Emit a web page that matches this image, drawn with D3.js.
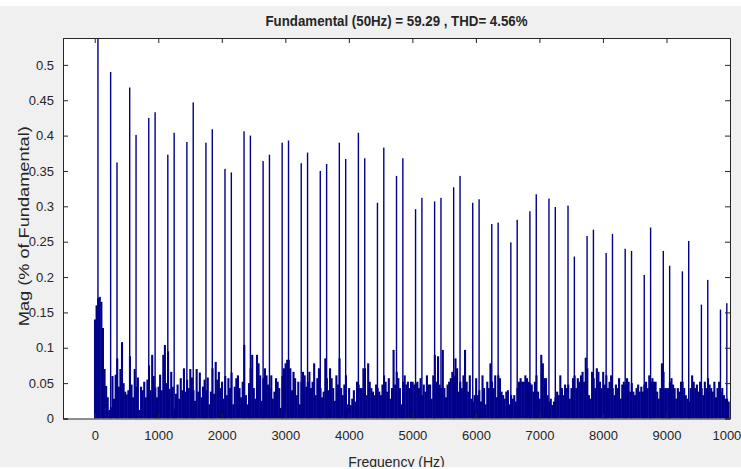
<!DOCTYPE html>
<html>
<head>
<meta charset="utf-8">
<script src="https://cdn.jsdelivr.net/npm/d3@7.9.0/dist/d3.min.js"></script>
<style>
  html, body { margin: 0; padding: 0; background: #fff; }
  svg { display: block; }
  text { font-family: "Liberation Sans Narrow", "Liberation Sans", Arial, sans-serif; fill: #262626; }
</style>
</head>
<body>
<div id="chart"></div>
<script>
const width = 741;
const height = 469;

const titleText = "Fundamental (50Hz) = 59.29 , THD= 4.56%";
const xLabel = "Frequency (Hz)";
const yLabel = "Mag (% of Fundamental)";

const xTicks = [0, 1000, 2000, 3000, 4000, 5000, 6000, 7000, 8000, 9000, 10000];
const yTicks = [0, 0.05, 0.1, 0.15, 0.2, 0.25, 0.3, 0.35, 0.4, 0.45, 0.5];

// fundamental + harmonics (6k +/- 1), frequency in Hz, magnitude in % of fundamental
const fundamental = { freq: 50, mag: 100 };
const harmonicFreqs = [
  250, 350, 550, 650, 850, 950, 1150, 1250, 1450, 1550,
  1750, 1850, 2050, 2150, 2350, 2450, 2650, 2750, 2950, 3050,
  3250, 3350, 3550, 3650, 3850, 3950, 4150, 4250, 4450, 4550,
  4750, 4850, 5050, 5150, 5350, 5450, 5650, 5750, 5950, 6050,
  6250, 6350, 6550, 6650, 6850, 6950, 7150, 7250, 7450, 7550,
  7750, 7850, 8050, 8150, 8350, 8450, 8650, 8750, 8950, 9050,
  9250, 9350, 9550, 9650, 9850, 9950
];
const harmonicMags = [
  0.490, 0.362, 0.468, 0.401, 0.425, 0.433, 0.373, 0.404, 0.391, 0.447,
  0.390, 0.409, 0.353, 0.348, 0.406, 0.400, 0.364, 0.373, 0.390, 0.393,
  0.361, 0.376, 0.350, 0.360, 0.390, 0.367, 0.404, 0.368, 0.305, 0.383,
  0.343, 0.368, 0.296, 0.312, 0.307, 0.312, 0.327, 0.343, 0.305, 0.310,
  0.275, 0.277, 0.249, 0.281, 0.293, 0.317, 0.311, 0.299, 0.301, 0.229,
  0.258, 0.267, 0.234, 0.261, 0.240, 0.237, 0.203, 0.270, 0.237, 0.216,
  0.208, 0.251, 0.161, 0.196, 0.154, 0.163
];

// noise floor, one value per 25 Hz bin starting at 0 Hz, in thousandths of a percent
const noiseStep = 25;
const noiseMilli = [
  140,160,170,172,165,128,70,46,30,12,16,60,28,62,85,45,70,108,50,38,34,40,88,48,30,70,45,58,12,45,40,52,30,55,75,40,90,60,44,30,
  45,62,40,90,104,50,95,42,66,45,14,35,48,28,57,40,71,38,55,43,70,58,40,25,70,38,65,30,45,55,40,58,20,38,71,35,80,55,66,43,
  52,28,60,33,57,43,65,20,45,57,61,43,30,52,104,33,20,50,71,90,43,28,90,78,61,25,57,71,61,48,43,61,28,38,57,52,43,15,60,71,
  78,83,83,71,40,66,57,33,52,20,52,66,61,45,52,66,43,52,78,33,57,71,43,30,38,85,57,40,71,57,43,25,61,48,85,43,33,48,61,20,
  43,19,28,40,24,52,48,43,43,71,71,33,78,52,43,38,33,48,43,38,33,48,61,52,38,57,28,43,97,48,66,57,43,20,52,61,48,52,43,52,
  52,48,50,52,43,57,33,48,38,61,48,48,28,61,90,52,88,48,43,97,43,30,48,52,57,66,61,85,71,38,52,43,61,97,52,38,61,28,24,33,
  57,33,40,24,61,43,20,52,43,78,52,43,61,30,61,57,38,33,28,38,40,20,33,28,33,24,43,52,57,52,52,61,57,52,50,48,38,52,61,38,
  28,90,78,57,57,33,24,28,19,24,30,38,33,61,43,33,48,43,48,28,43,57,61,43,57,52,61,66,52,86,71,33,28,66,57,43,71,66,52,43,
  66,48,61,43,52,61,43,33,48,43,57,28,48,52,48,57,52,38,50,38,33,43,48,38,45,38,48,52,43,61,52,57,52,52,38,28,43,78,66,43,
  43,43,52,57,48,43,28,43,38,52,52,43,33,28,24,43,61,52,43,48,38,52,43,33,52,43,57,48,43,38,52,30,43,52,38,43,33,28,28,24
];

const margin = { top: 38, right: 11, bottom: 50, left: 63 };
const plotW = width - margin.left - margin.right;
const plotH = height - margin.top - margin.bottom - 0.5;

const x = d3.scaleLinear().domain([-500, 10000]).range([0, plotW]);
const y = d3.scaleLinear().domain([0, 0.538]).range([plotH, 0]);

const svg = d3.select("#chart").append("svg")
  .attr("width", width)
  .attr("height", height);

// figure background
svg.append("rect")
  .attr("x", 0).attr("y", 6)
  .attr("width", width).attr("height", 461)
  .attr("fill", "#f0f0f0");

svg.append("defs").append("clipPath").attr("id", "plot-clip")
  .append("rect").attr("width", plotW).attr("height", plotH);

const g = svg.append("g").attr("transform", `translate(${margin.left},${margin.top})`);

g.append("rect")
  .attr("width", plotW).attr("height", plotH)
  .attr("fill", "#fff");

const barColor = "#00008b";
const bars = g.append("g").attr("clip-path", "url(#plot-clip)");

const noise = noiseMilli.map((m, i) => ({ freq: i * noiseStep, mag: m / 1000 }));
const binW = x(noiseStep) - x(0);

// bars overlap slightly so the floor reads as a solid fill, like the reference
bars.selectAll("rect.noise")
  .data(noise)
  .join("rect")
  .attr("class", "noise")
  .attr("x", d => x(d.freq) - binW / 2)
  .attr("width", binW + 0.5)
  .attr("y", d => y(d.mag))
  .attr("height", d => y(0) - y(d.mag))
  .attr("fill", barColor);

const spikes = [fundamental].concat(harmonicFreqs.map((f, i) => ({ freq: f, mag: harmonicMags[i] })));

bars.selectAll("rect.spike")
  .data(spikes)
  .join("rect")
  .attr("class", "spike")
  .attr("x", d => x(d.freq) - 0.7)
  .attr("width", 1.4)
  .attr("y", d => y(Math.min(d.mag, 0.6)))
  .attr("height", d => y(0) - y(Math.min(d.mag, 0.6)))
  .attr("fill", barColor);

// axes (MATLAB style box with inward ticks)
const axisColor = "#262626";
const tickLen = 5;

const xAxisB = g.append("g").attr("transform", `translate(0,${plotH})`)
  .call(d3.axisBottom(x).tickValues(xTicks).tickSize(-tickLen).tickPadding(12).tickFormat(d3.format("d")));
const xAxisT = g.append("g")
  .call(d3.axisTop(x).tickValues(xTicks).tickSize(-tickLen).tickFormat(""));
const yAxisL = g.append("g")
  .call(d3.axisLeft(y).tickValues(yTicks).tickSize(-tickLen).tickPadding(9).tickFormat(d => String(d)));
const yAxisR = g.append("g").attr("transform", `translate(${plotW},0)`)
  .call(d3.axisRight(y).tickValues(yTicks).tickSize(-tickLen).tickFormat(""));

[xAxisB, xAxisT, yAxisL, yAxisR].forEach(a => {
  a.select(".domain").attr("stroke", axisColor);
  a.selectAll(".tick line").attr("stroke", axisColor);
  a.selectAll("text").attr("font-size", 13).attr("fill", axisColor)
    .style("font-family", "'Liberation Sans Narrow', 'Liberation Sans', Arial, sans-serif");
});

// title
svg.append("text")
  .attr("x", margin.left + plotW / 2)
  .attr("y", 26)
  .attr("text-anchor", "middle")
  .attr("font-size", 14)
  .attr("font-weight", "bold")
  .attr("textLength", 262)
  .attr("lengthAdjust", "spacingAndGlyphs")
  .text(titleText);

// x label
svg.append("text")
  .attr("x", margin.left + plotW / 2)
  .attr("y", 467)
  .attr("text-anchor", "middle")
  .attr("font-size", 14)
  .text(xLabel);

// y label
svg.append("text")
  .attr("transform", `translate(29,${margin.top + plotH / 2 - 2}) rotate(-90)`)
  .attr("text-anchor", "middle")
  .attr("font-size", 14)
  .attr("textLength", 200)
  .attr("lengthAdjust", "spacingAndGlyphs")
  .style("font-family", "'Liberation Sans', Arial, sans-serif")
  .text(yLabel);

// white strip under the figure
svg.append("rect")
  .attr("x", 0).attr("y", 467)
  .attr("width", width).attr("height", 2)
  .attr("fill", "#fff");
</script>
</body>
</html>
